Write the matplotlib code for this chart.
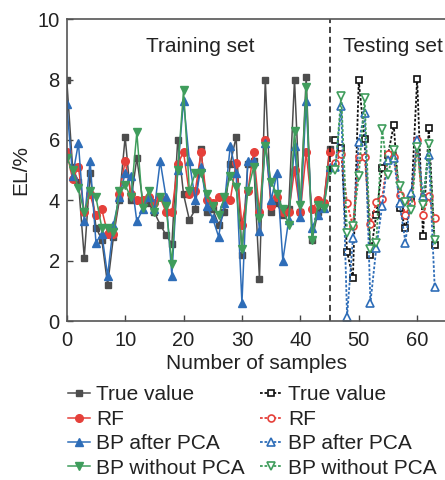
import matplotlib
matplotlib.use("Agg")
import matplotlib.pyplot as plt
from matplotlib.lines import Line2D

plt.rcParams['font.family'] = ['Liberation Sans', 'DejaVu Sans']

# ---- data ----
train_idx = list(range(0, 46))
test_idx = list(range(46, 64))

train_true = [8.0, 5.1, 4.6, 2.1, 4.9, 3.1, 2.7, 1.2, 2.8, 4.0,
              6.1, 4.0, 5.4, 4.0, 3.9, 3.6, 3.2, 2.85, 2.55, 6.0,
              4.2, 3.35, 3.7, 5.7, 3.6, 3.7, 3.2, 3.6, 5.2, 6.1,
              2.2, 5.2, 5.3, 1.4, 8.0, 3.6, 3.9, 3.5, 3.7, 8.0,
              3.6, 8.1, 2.7, 3.6, 3.9, 5.7]
train_rf = [5.6, 4.7, 5.1, 3.6, 4.2, 3.5, 3.7, 2.9, 2.9, 4.2,
            5.3, 4.2, 4.0, 4.0, 4.1, 3.9, 4.1, 3.6, 3.6, 5.2,
            5.6, 4.2, 4.3, 5.6, 4.0, 3.9, 4.1, 4.1, 4.0, 5.25,
            3.2, 4.3, 5.6, 3.6, 6.0, 3.8, 4.1, 3.6, 3.6, 5.0,
            3.6, 5.6, 3.7, 4.0, 3.9, 5.6]
train_bp_pca = [7.2, 4.8, 5.9, 3.3, 5.3, 2.6, 2.9, 1.5, 3.2, 4.1,
                4.9, 4.8, 3.3, 3.7, 4.1, 3.7, 5.3, 4.1, 1.5, 5.0,
                7.3, 5.3, 4.0, 5.1, 3.8, 3.4, 2.8, 3.9, 5.8, 4.9,
                0.6, 5.3, 5.3, 3.0, 5.9, 4.0, 4.9, 2.0, 3.35, 5.8,
                3.45, 7.3, 3.1, 3.5, 3.75, 5.1]
train_bp_nopca = [5.4, 5.0, 4.4, 3.6, 4.3, 4.1, 3.1, 3.1, 2.95, 4.3,
                  4.5, 4.1, 6.25, 3.75, 4.3, 3.6, 4.1, 3.8, 1.9, 5.0,
                  7.65, 4.3, 4.9, 4.9, 4.2, 3.8, 3.5, 4.1, 4.8, 4.45,
                  2.4, 4.3, 5.1, 3.4, 5.8, 4.6, 4.2, 3.7, 3.2, 6.3,
                  3.85, 7.75, 2.7, 3.85, 3.75, 5.0]

test_true = [6.0, 5.75, 2.3, 1.42, 7.97, 6.02, 2.2, 3.52, 5.07, 5.5,
             6.5, 3.74, 3.08, 4.0, 8.03, 2.82, 6.4, 2.52]
test_rf = [5.25, 5.55, 3.9, 3.15, 5.45, 5.45, 3.22, 3.93, 4.05, 5.52,
           5.45, 4.19, 3.52, 3.9, 6.0, 3.52, 4.13, 3.41]
test_bp_pca = [5.1, 7.11, 0.15, 2.74, 5.94, 6.9, 0.61, 2.41, 3.8, 5.35,
               5.4, 3.91, 2.6, 4.24, 6.0, 4.13, 5.51, 1.14]
test_bp_nopca = [5.0, 7.47, 2.91, 3.15, 4.8, 7.38, 2.38, 2.58, 6.37, 4.85,
                 5.68, 4.46, 3.96, 3.68, 5.77, 3.85, 5.85, 2.69]

labels = ["True value", "RF", "BP after PCA", "BP without PCA"]
x_ticks = [0, 10, 20, 30, 40, 50, 60]
y_ticks = [0, 2, 4, 6, 8, 10]

# ---- style ----
c_true_tr = '#4d4d4d'
c_true_te = '#111111'
c_red = '#e5403a'
c_blue = '#2e6db8'
c_green = '#3f9d5c'
txt = '#222222'

fig = plt.figure(figsize=(4.45, 4.8), dpi=100)
ax = fig.add_axes([0.15, 0.331, 0.853, 0.629])

train_series = [(train_true, c_true_tr, 's', 5.0),
                (train_rf, c_red, 'o', 5.5),
                (train_bp_pca, c_blue, '^', 6.0),
                (train_bp_nopca, c_green, 'v', 6.0)]
test_series = [(test_true, c_true_te, 's', 4.5),
               (test_rf, c_red, 'o', 5.0),
               (test_bp_pca, c_blue, '^', 5.5),
               (test_bp_nopca, c_green, 'v', 5.5)]

handles_tr = []
for (vals, col, mk, ms), lab in zip(train_series, labels):
    h, = ax.plot(train_idx, vals, color=col, marker=mk, ms=ms, lw=1.1,
                 mec=col, mfc=col, label=lab)
    handles_tr.append(h)

handles_te = []
for (vals, col, mk, ms), lab in zip(test_series, labels):
    h, = ax.plot(test_idx, vals, color=col, marker=mk, ms=ms, lw=1.3,
                 ls=(0, (1.5, 1.0)), mec=col, mfc='white', mew=1.2, label=lab)
    handles_te.append(h)

ax.axvline(45, color='#111111', lw=1.1, ls=(0, (4, 2.5)))

ax.set_xlim(0, 65)
ax.set_ylim(0, 10)
ax.set_xticks(x_ticks)
ax.set_yticks(y_ticks)
ax.tick_params(direction='in', length=4, width=1, colors='#444444',
               labelsize=14.5, labelcolor=txt)
ax.tick_params(axis='x', pad=7)
ax.tick_params(axis='y', pad=5)
for s in ax.spines.values():
    s.set_color('#555555')
    s.set_linewidth(1.2)
ax.spines['right'].set_visible(False)

ax.set_xlabel("Number of samples", fontsize=15, color=txt, labelpad=3)
ax.set_ylabel("EL/%", fontsize=15, color=txt, labelpad=5)

ax.text(22.8, 9.1, "Training set", fontsize=15, color=txt, ha='center', va='center')
ax.text(55.9, 9.1, "Testing set", fontsize=15, color=txt, ha='center', va='center')

# legend: two columns (train solid, test dotted)
leg_h = handles_tr + handles_te
leg_l = labels + labels
leg = fig.legend(leg_h, leg_l, ncol=2, loc='upper left',
                 bbox_to_anchor=(0.152, 0.197), frameon=False, fontsize=15,
                 handlelength=1.05, handletextpad=0.3, labelspacing=0.26,
                 columnspacing=0.75, borderpad=0, borderaxespad=0)
for t in leg.get_texts():
    t.set_color(txt)

fig.savefig("out.png", dpi=100)
